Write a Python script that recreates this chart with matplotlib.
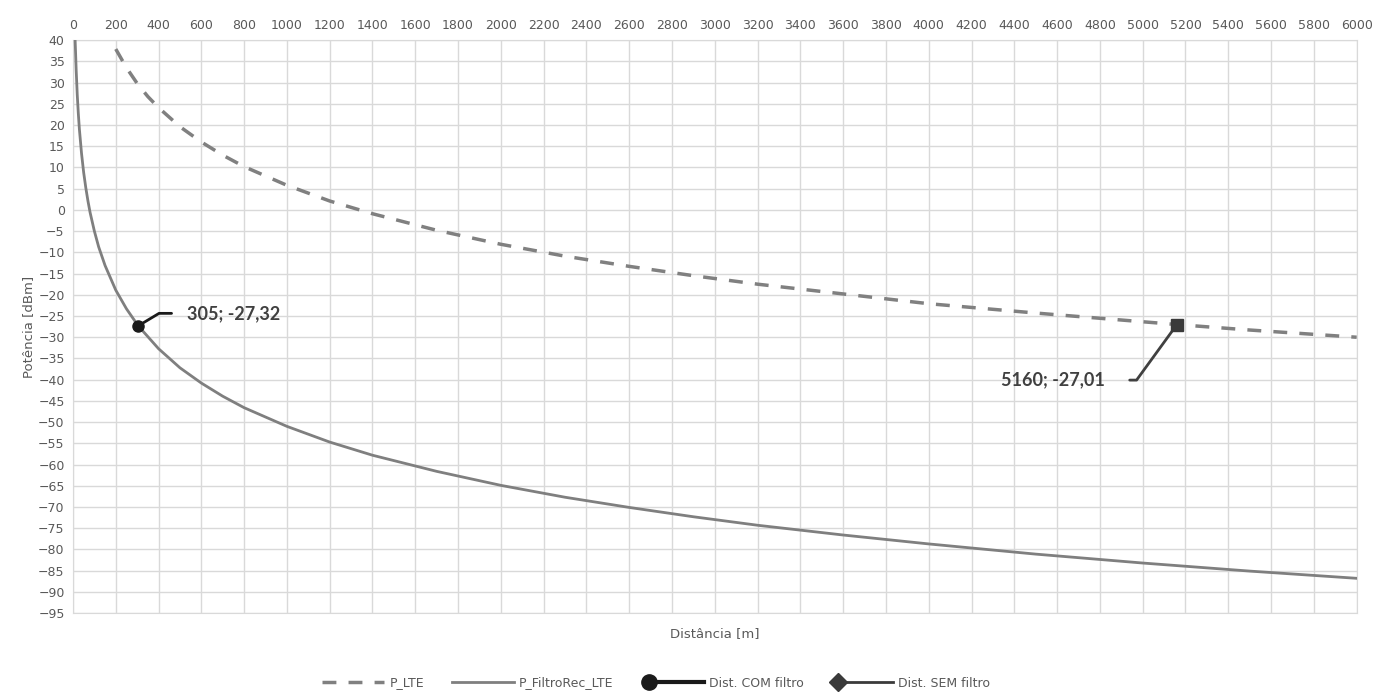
import matplotlib.pyplot as plt
from matplotlib.lines import Line2D
from matplotlib.legend_handler import HandlerLine2D

# leitura aproximada dos valores do gráfico
dist_lte = [200, 250, 300, 350, 400, 500, 600, 700, 800, 1000, 1200, 1400, 1700, 2000,
            2300, 2600, 2900, 3200, 3600, 4000, 4500, 5160, 5500, 6000]
p_lte = [37.9, 33.5, 29.8, 26.7, 24.1, 19.6, 16.0, 12.9, 10.2, 5.8, 2.1, -0.9, -4.8, -8.1,
         -10.9, -13.3, -15.5, -17.5, -19.8, -22.1, -24.3, -27.01, -28.3, -30.0]

dist_filtro = [10, 12, 15, 20, 25, 30, 40, 50, 60, 70, 80, 100, 120, 150, 200, 250, 305,
               400, 500, 600, 700, 800, 1000, 1200, 1400, 1700, 2000, 2300, 2600, 2900,
               3200, 3600, 4000, 4500, 5000, 5500, 6000]
p_filtro = [40.0, 37.3, 32.9, 27.1, 22.7, 19.0, 13.3, 8.8, 5.2, 2.1, -0.6, -5.0, -8.7,
            -13.1, -18.9, -23.3, -27.32, -32.7, -37.2, -40.8, -43.9, -46.6, -51.0, -54.7,
            -57.8, -61.6, -64.9, -67.7, -70.1, -72.3, -74.3, -76.6, -78.7, -81.1, -83.2,
            -85.1, -86.8]

com_filtro = (305, -27.32)
sem_filtro = (5160, -27.01)


# marcador na ponta esquerda da linha da legenda (como no Excel)
class MarcadorEsq(HandlerLine2D):
    def create_artists(self, legend, orig_handle, xdescent, ydescent, width, height,
                       fontsize, trans):
        y = (height - ydescent) / 2
        x0 = -xdescent + 0.12 * width
        linha = Line2D([x0, -xdescent + width], [y, y])
        self.update_prop(linha, orig_handle, legend)
        linha.set_marker('None')
        marca = Line2D([x0], [y], ls='None')
        self.update_prop(marca, orig_handle, legend)
        marca.set_linestyle('None')
        linha.set_transform(trans)
        marca.set_transform(trans)
        return [linha, marca]


fig = plt.figure(figsize=(13.9, 6.92), dpi=100)
ax = fig.add_axes([0.0525, 0.114, 0.9235, 0.828])

txt = '#595959'
ax.plot(dist_lte, p_lte, color='#808080', lw=2.5, ls=(0, (4, 3.5)), zorder=3)
ax.plot(dist_filtro, p_filtro, color='#7f7f7f', lw=2, zorder=3)
ax.plot(*com_filtro, 'o', color='#1a1a1a', ms=8, zorder=5)
ax.plot(*sem_filtro, 's', color='#3a3a3a', ms=8, zorder=5)

# rótulos dos pontos
ax.annotate('305; -27,32', xy=com_filtro, xytext=(35, 9), textcoords='offset points',
            fontsize=13, fontweight='bold', family='Lato', color='#404040', va='center',
            arrowprops=dict(arrowstyle='-', color='#1a1a1a', lw=2,
                            connectionstyle='angle,angleA=0,angleB=31,rad=0', shrinkA=9, shrinkB=0))
ax.annotate('5160; -27,01', xy=sem_filtro, xytext=(-52, -40), textcoords='offset points',
            fontsize=13, fontweight='bold', family='Lato', color='#404040', va='center', ha='right',
            arrowprops=dict(arrowstyle='-', color='#404040', lw=2,
                            connectionstyle='angle,angleA=0,angleB=54,rad=0', shrinkA=16, shrinkB=0))

ax.set_xlim(0, 6000)
ax.set_ylim(-95, 40)
ax.set_xticks(range(0, 6001, 200))
ax.set_yticks(range(-95, 41, 5))
ax.xaxis.tick_top()
ax.tick_params(length=0, labelsize=9, labelcolor=txt, pad=6)
ax.grid(color='#d9d9d9', lw=1)
ax.set_axisbelow(True)
for s in ax.spines.values():
    s.set_color('#d9d9d9')

ax.set_xlabel('Distância [m]', fontsize=9.5, color=txt, labelpad=10)
ax.xaxis.set_label_position('bottom')
ax.set_ylabel('Potência [dBm]', fontsize=9.5, color=txt, labelpad=2)

h_com = Line2D([], [], color='#1a1a1a', lw=3, marker='o', ms=11)
h_sem = Line2D([], [], color='#3a3a3a', lw=2, marker='D', ms=9)
handles = [
    Line2D([], [], color='#808080', lw=2.5, ls=(0, (4, 3.5))),
    Line2D([], [], color='#7f7f7f', lw=2),
    h_com,
    h_sem,
]
labels = ['P_LTE', 'P_FiltroRec_LTE', 'Dist. COM filtro', 'Dist. SEM filtro']
fig.legend(handles, labels, loc='center', bbox_to_anchor=(0.472, 0.013), ncol=4,
           frameon=False, fontsize=9, labelcolor=txt, handlelength=5, columnspacing=2.2,
           handletextpad=0.4, handler_map={h_com: MarcadorEsq(), h_sem: MarcadorEsq()})

plt.savefig('out.png')
